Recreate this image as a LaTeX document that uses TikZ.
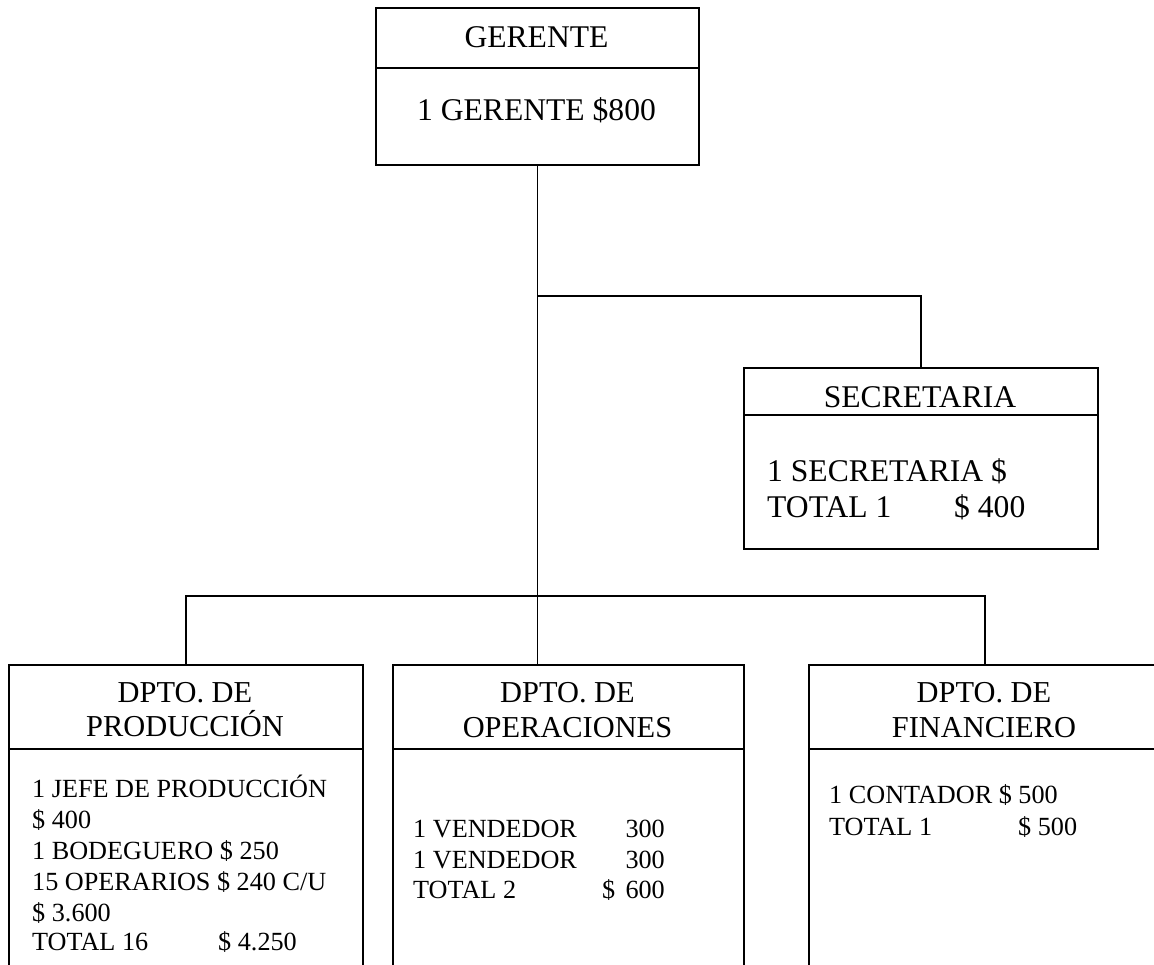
\documentclass[tikz,border=0pt]{standalone}
\usepackage{fontspec}
\setmainfont{Liberation Serif}
\begin{document}
\begin{tikzpicture}[x=1pt,y=-1pt,
  unit/.style={draw, rectangle, line width=2pt, inner sep=0pt, anchor=north west},
  link/.style={line width=1.8pt},
  divider/.style={line width=2pt},
  bighead/.style={inner sep=0pt, anchor=base, font=\fontsize{31.6}{36.3}\selectfont},
  head/.style={inner sep=0pt, anchor=base, font=\fontsize{30.4}{35}\selectfont},
  bigtxt/.style={inner sep=0pt, anchor=base west, font=\fontsize{31.6}{36.3}\selectfont},
  txt/.style={inner sep=0pt, anchor=base west, font=\fontsize{26.2}{30.1}\selectfont},
  txtr/.style={inner sep=0pt, anchor=base east, font=\fontsize{26.2}{30.1}\selectfont}]
\clip (0,0) rectangle (1154,964);

% helper rows
\coordinate (busS) at (0,296);
\coordinate (busD) at (0,596);
\coordinate (divG) at (0,68);
\coordinate (divS) at (0,415);
\coordinate (divD) at (0,749);

% boxes
\node[unit, minimum width=323pt, minimum height=157pt] (ger) at (375,7) {};
\node[unit, minimum width=354pt, minimum height=181pt] (sec) at (743,367) {};
\node[unit, minimum width=354pt, minimum height=330pt] (prod) at (8,664) {};
\node[unit, minimum width=351pt, minimum height=330pt] (ops) at (392,664) {};
\node[unit, minimum width=352pt, minimum height=330pt] (fin) at (808,664) {};

% header dividers
\draw[divider] (ger.west |- divG) -- (ger.east |- divG);
\draw[divider] (sec.west |- divS) -- (sec.east |- divS);
\draw[divider] (prod.west |- divD) -- (prod.east |- divD);
\draw[divider] (ops.west |- divD) -- (ops.east |- divD);
\draw[divider] (fin.west |- divD) -- (fin.east |- divD);

% connectors
\draw[link] (ger.south) -- (ger.south |- ops.north);
\draw[link] (ger.south |- busS) -| (sec.north);
\draw[link] (prod.north) -- (prod.north |- busD) -- (fin.north |- busD) -- (fin.north);

% gerente
\node[bighead] (gerH) at (536.5,47) {GERENTE};
\node[bighead] (gerB) at (536.5,120) {1 GERENTE \$800};

% secretaria
\node[bighead] (secH) at (920,407) {SECRETARIA};
\node[bigtxt] (secB1) at (767,481) {1 SECRETARIA \$};
\node[bigtxt] (secB2) at (767,517) {TOTAL 1};
\node[bigtxt] (secB3) at (954,517) {\$ 400};

% produccion
\node[head] (prodH1) at (185,702) {DPTO. DE};
\node[head] (prodH2) at (185,736) {PRODUCCIÓN};
\node[txt] (prodB1) at (32,797) {1 JEFE DE PRODUCCIÓN};
\node[txt] (prodB2) at (32,828) {\$ 400};
\node[txt] (prodB3) at (32,859) {1 BODEGUERO \$ 250};
\node[txt] (prodB4) at (32,890) {15 OPERARIOS \$ 240 C/U};
\node[txt] (prodB5) at (32,921) {\$ 3.600};
\node[txt] (prodB6) at (32,950) {TOTAL 16};
\node[txt] (prodB7) at (218,950) {\$ 4.250};

% operaciones
\node[head] (opsH1) at (567.5,702) {DPTO. DE};
\node[head] (opsH2) at (567.5,737) {OPERACIONES};
\node[txt] (opsB1) at (413,837) {1 VENDEDOR};
\node[txtr] (opsV1) at (665,837) {300};
\node[txt] (opsB2) at (413,868) {1 VENDEDOR};
\node[txtr] (opsV2) at (665,868) {300};
\node[txt] (opsB3) at (413,898) {TOTAL 2};
\node[txt] (opsD) at (602,898) {\$};
\node[txtr] (opsV3) at (665,898) {600};

% financiero
\node[head] (finH1) at (984,702) {DPTO. DE};
\node[head] (finH2) at (984,737) {FINANCIERO};
\node[txt] (finB1) at (829,803) {1 CONTADOR \$ 500};
\node[txt] (finB2) at (829,835) {TOTAL 1};
\node[txt] (finB3) at (1018,835) {\$ 500};
\end{tikzpicture}
\end{document}
